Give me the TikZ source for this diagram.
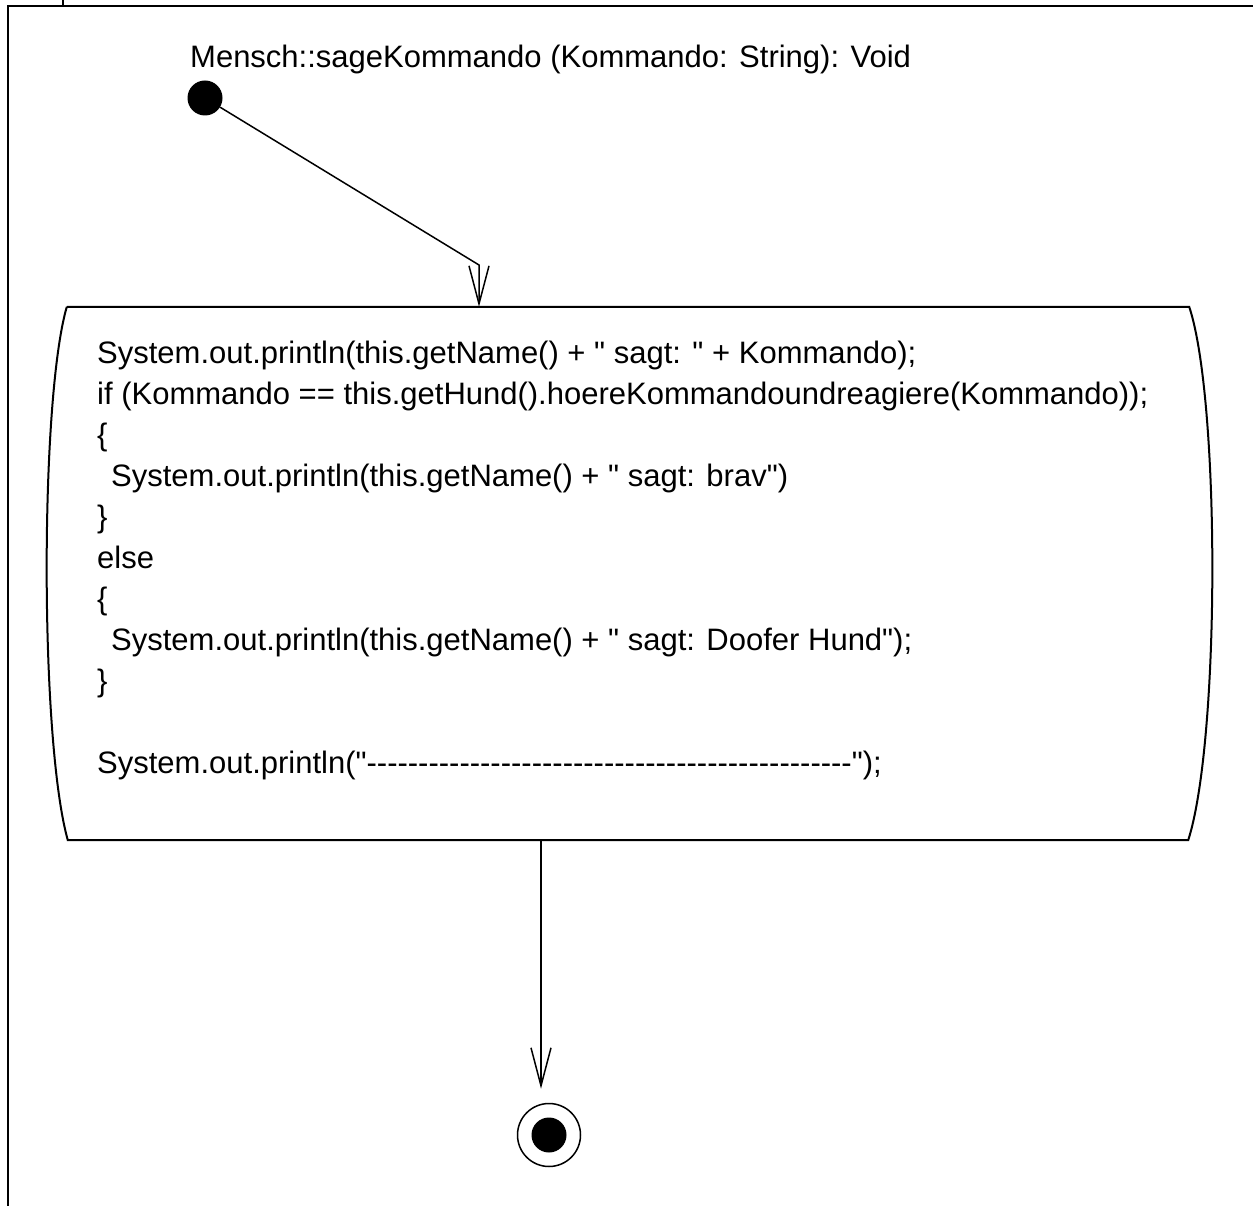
\documentclass[tikz,border=0pt]{standalone}
\usepackage{fontspec}
\newfontfamily\codefont{Liberation Sans}
\usetikzlibrary{arrows.meta,calc}

% a run of plain hyphens (kept apart so no dash ligature forms)
\newcommand\hyrun[1]{\foreach \i in {1,...,#1}{-\kern0pt}}

\begin{document}
\begin{tikzpicture}[x=1pt,y=-1pt,
  frame/.style={line width=2pt},
  outline/.style={line width=2pt},
  flow/.style={line width=1.5pt, -{Straight Barb[length=38pt,width=20pt,line width=1.5pt]}},
  code/.style={anchor=base west, inner sep=0pt, font=\codefont\fontsize{31}{41}\selectfont},
  initial/.style={circle, fill=black, minimum size=35pt, inner sep=0pt},
  final/.style={circle, draw, line width=1.5pt, minimum size=63pt, inner sep=0pt},
  finaldot/.style={circle, fill=black, minimum size=35pt, inner sep=0pt}]
\useasboundingbox (0,0) rectangle (1253,1206);

% page frame
\draw[frame] (8,1206) -- (8,6) -- (1253,6);
\draw[frame] (63,0) -- (63,6);

% operation name
\node[code] (title) at (190,68) {Mensch::sageKommando (Kommando: String): Void};

% initial state
\node[initial] (start) at (205,98) {};

% action state
\node[inner sep=0pt, minimum width=1122pt, minimum height=533pt] (act) at (628,573.5) {};
\draw[outline] (act.north west) -- (act.north east)
  .. controls ($(act.north east)+(31,93)$) and ($(act.south east)+(31,-100)$) .. ($(act.south east)+(-1,0)$)
  -- ($(act.south west)+(1,0)$)
  .. controls ($(act.south west)+(-27,-100)$) and ($(act.north west)+(-27,93)$) .. (act.north west);

\node[code] (l1) at (97,363) {System.out.println(this.getName() + " sagt: " + Kommando);};
\node[code] (l2) at (97,404) {if (Kommando == this.getHund().hoereKommandoundreagiere(Kommando));};
\node[code] (l3) at (97,445) {\{};
\node[code] (l4) at (111,486) {System.out.println(this.getName() + " sagt: brav")};
\node[code] (l5) at (97,527) {\}};
\node[code] (l6) at (97,568) {else};
\node[code] (l7) at (97,609) {\{};
\node[code] (l8) at (111,650) {System.out.println(this.getName() + " sagt: Doofer Hund");};
\node[code] (l9) at (97,691) {\}};
\node[code] (l10) at (97,773) {System.out.println("\hyrun{47}");};

% final state
\node[final] (end) at (549,1135) {};
\node[finaldot] (enddot) at (end.center) {};

% transitions
\coordinate (bend) at (479,265);
\draw[flow] (start) -- (bend) -- (bend |- act.north);
\coordinate (exit) at (541,840);
\draw[flow, shorten >=14pt] (exit) -- (exit |- end.north);
\end{tikzpicture}
\end{document}
